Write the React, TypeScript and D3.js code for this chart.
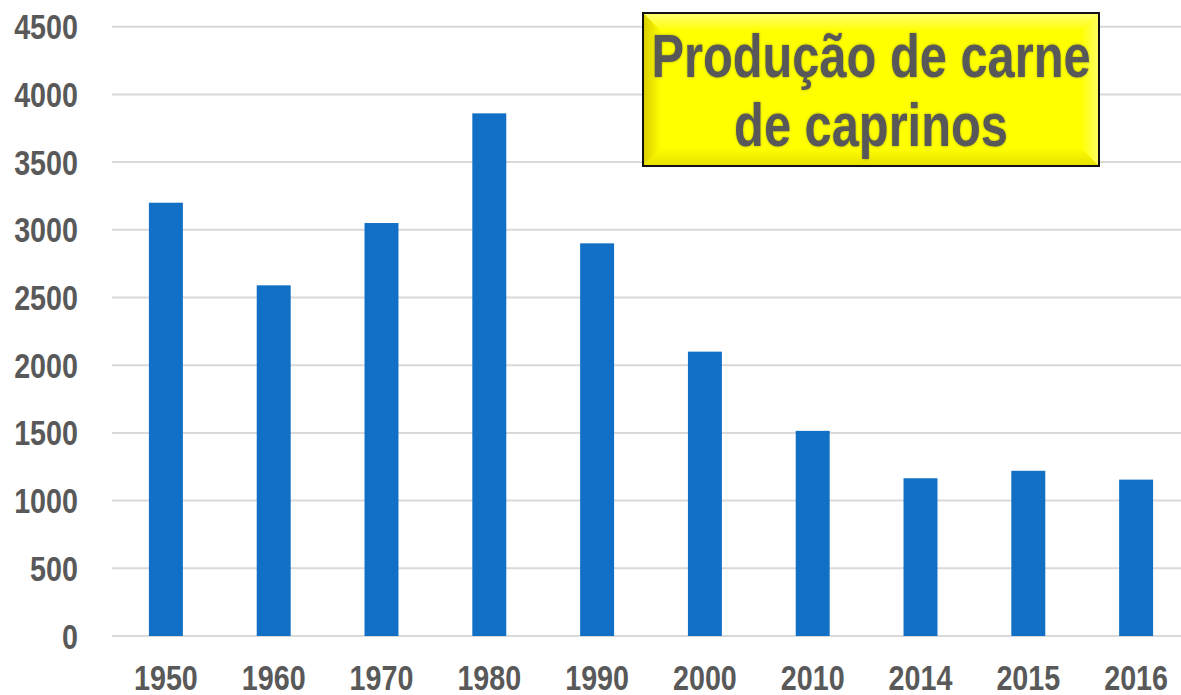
import React from "react"
import { scaleBand, scaleLinear } from "d3"

const years = ["1950", "1960", "1970", "1980", "1990", "2000", "2010", "2014", "2015", "2016"]
const production = [3200, 2590, 3050, 3860, 2900, 2100, 1515, 1165, 1220, 1155]
const titleLines = ["Produção de carne", "de caprinos"]

const W = 1181
const H = 695
const FONT = "'Liberation Sans', Arial, sans-serif"
const GREY = "#595959"

// no narrow font installed, so squeeze the regular one
function Label({ x, y, size, anchor, children, filter, squeeze = 0.82 }) {
    return (
        <text transform={`translate(${x},${y}) scale(${squeeze},1)`} textAnchor={anchor}
            fontFamily={FONT} fontWeight="bold" fontSize={size} fill={GREY} filter={filter}>
            {children}
        </text>
    )
}

export default function App() {
    const x = scaleBand<string>()
        .domain(years)
        .range([112, 1190])
        .paddingInner(0.685)
        .paddingOuter(0.3425)
    const y = scaleLinear().domain([0, 4500]).range([636, 26.7])
    const ticks = y.ticks(9)

    const box = { x0: 643, y0: 13, x1: 1099, y1: 166 }
    const bev = 18

    return (
        <svg width={W} height={H} style={{ position: "absolute", left: 0, top: 0, background: "#fff" }}>
            <defs>
                <linearGradient id="bevL" x1="0" x2="1" y1="0" y2="0">
                    <stop offset="0" stopColor="#d8cc00" />
                    <stop offset="1" stopColor="#ffff00" />
                </linearGradient>
                <linearGradient id="bevT" x1="0" x2="0" y1="0" y2="1">
                    <stop offset="0" stopColor="#ffff7a" />
                    <stop offset="1" stopColor="#ffff00" />
                </linearGradient>
                <linearGradient id="bevR" x1="1" x2="0" y1="0" y2="0">
                    <stop offset="0" stopColor="#ffff66" />
                    <stop offset="1" stopColor="#ffff00" />
                </linearGradient>
                <linearGradient id="bevB" x1="0" x2="0" y1="1" y2="0">
                    <stop offset="0" stopColor="#e6e000" />
                    <stop offset="1" stopColor="#ffff00" />
                </linearGradient>
                <filter id="glow" x="-5%" y="-20%" width="110%" height="140%">
                    <feGaussianBlur in="SourceAlpha" stdDeviation="1.5" result="b" />
                    <feFlood floodColor="#000" floodOpacity="0.3" />
                    <feComposite in2="b" operator="in" result="s" />
                    <feMerge>
                        <feMergeNode in="s" />
                        <feMergeNode in="SourceGraphic" />
                    </feMerge>
                </filter>
            </defs>

            {ticks.map(t => (
                <line key={"g" + t} x1={112} x2={W} y1={y(t)} y2={y(t)} stroke="#d9d9d9" strokeWidth={2} />
            ))}

            {ticks.map(t => (
                <Label key={"l" + t} x={78} y={y(t) + 12.5} size={35} anchor="end">{t}</Label>
            ))}

            {years.map((yr, i) => (
                <rect key={yr} x={x(yr)} y={y(production[i])} width={x.bandwidth()}
                    height={y(0) - y(production[i])} fill="#1170c6" />
            ))}

            {years.map(yr => (
                <Label key={"x" + yr} x={x(yr)! + x.bandwidth() / 2} y={690} size={35} anchor="middle">{yr}</Label>
            ))}

            <g>
                <rect x={box.x0} y={box.y0} width={box.x1 - box.x0} height={box.y1 - box.y0} fill="#ffff00" />
                <polygon fill="url(#bevT)" points={`${box.x0},${box.y0} ${box.x1},${box.y0} ${box.x1 - bev},${box.y0 + bev} ${box.x0 + bev},${box.y0 + bev}`} />
                <polygon fill="url(#bevL)" points={`${box.x0},${box.y0} ${box.x0 + bev},${box.y0 + bev} ${box.x0 + bev},${box.y1 - bev} ${box.x0},${box.y1}`} />
                <polygon fill="url(#bevR)" points={`${box.x1},${box.y0} ${box.x1},${box.y1} ${box.x1 - bev},${box.y1 - bev} ${box.x1 - bev},${box.y0 + bev}`} />
                <polygon fill="url(#bevB)" points={`${box.x0},${box.y1} ${box.x0 + bev},${box.y1 - bev} ${box.x1 - bev},${box.y1 - bev} ${box.x1},${box.y1}`} />
                <rect x={box.x0} y={box.y0} width={box.x1 - box.x0} height={box.y1 - box.y0} fill="none" stroke="#111" strokeWidth={2} />
                {titleLines.map((line, i) => (
                    <Label key={line} x={(box.x0 + box.x1) / 2} y={77 + i * 69} size={61} anchor="middle"
                        filter="url(#glow)" squeeze={0.8}>
                        {line}
                    </Label>
                ))}
            </g>
        </svg>
    )
}
